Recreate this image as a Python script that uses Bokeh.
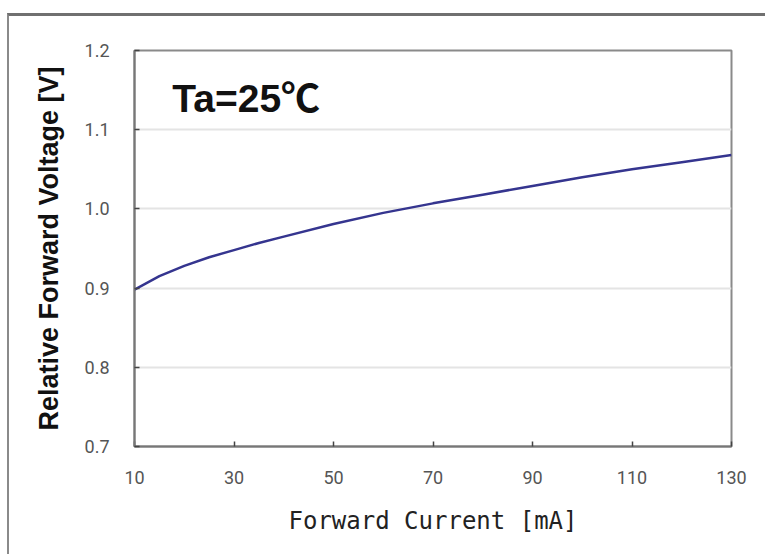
from bokeh.plotting import figure
from bokeh.models import FixedTicker, Label, NumeralTickFormatter, Range1d
from bokeh.embed import file_html
from bokeh.resources import INLINE

# data
current_ma = [10, 15, 20, 25, 30, 35, 40, 50, 60, 70, 80, 90, 100, 110, 120, 130]
rel_voltage = [0.898, 0.915, 0.928, 0.939, 0.948, 0.957, 0.965, 0.981, 0.995, 1.007, 1.018, 1.029, 1.040, 1.050, 1.059, 1.068]
x_ticks = [10, 30, 50, 70, 90, 110, 130]
y_ticks = [0.7, 0.8, 0.9, 1.0, 1.1, 1.2]

p = figure(width=756, height=538, frame_width=597, frame_height=396,
           min_border_left=125, min_border_right=34, min_border_top=34, min_border_bottom=108,
           x_range=Range1d(10, 130), y_range=Range1d(0.7, 1.2),
           output_backend="svg", toolbar_location=None)

p.styles = {"margin-left": "7px", "margin-top": "13px",
            "border-left": "2px solid #8a8a8a", "border-top": "3px solid #707070"}

p.background_fill_color = "white"
p.border_fill_color = "white"
p.outline_line_color = "#8a8a8a"
p.outline_line_width = 2

p.line(current_ma, rel_voltage, line_color="#35358f", line_width=2.5)

tick_font = "Roboto"

p.xaxis.ticker = FixedTicker(ticks=x_ticks)
p.yaxis.ticker = FixedTicker(ticks=y_ticks)
p.yaxis.formatter = NumeralTickFormatter(format="0.0")

for ax in (p.xaxis[0], p.yaxis[0]):
    ax.axis_line_color = "#777777"
    ax.axis_line_width = 2
    ax.major_tick_in = 5
    ax.major_tick_out = 0
    ax.major_tick_line_color = "#444444"
    ax.major_tick_line_width = 1.5
    ax.minor_tick_line_color = None
    ax.major_label_text_font = tick_font
    ax.major_label_text_font_size = "18px"
    ax.major_label_text_color = "#555555"

p.xaxis.major_label_standoff = 24
p.yaxis.major_label_standoff = 25

p.xaxis.axis_label = "Forward Current [mA]"
p.xaxis.axis_label_text_font = "DejaVu Sans Mono"
p.xaxis.axis_label_text_font_size = "24px"
p.xaxis.axis_label_text_font_style = "normal"
p.xaxis.axis_label_text_color = "#222222"
p.xaxis.axis_label_standoff = 20

p.yaxis.axis_label = "Relative Forward Voltage [V]"
p.yaxis.axis_label_text_font = "Liberation Sans"
p.yaxis.axis_label_text_font_size = "27px"
p.yaxis.axis_label_text_font_style = "bold"
p.yaxis.axis_label_text_color = "#111111"
p.yaxis.axis_label_standoff = 18

p.xgrid.grid_line_color = None
p.ygrid.grid_line_color = "#e4e4e4"
p.ygrid.grid_line_width = 2

label = Label(x=17.6, y=1.139, text="Ta=25\u2103", text_font="Liberation Sans, Noto Sans CJK KR",
              text_font_size="39px", text_font_style="bold", text_color="#111111",
              text_baseline="middle", text_align="left")
p.add_layout(label)

open("out.html", "w").write(file_html(p, INLINE))
